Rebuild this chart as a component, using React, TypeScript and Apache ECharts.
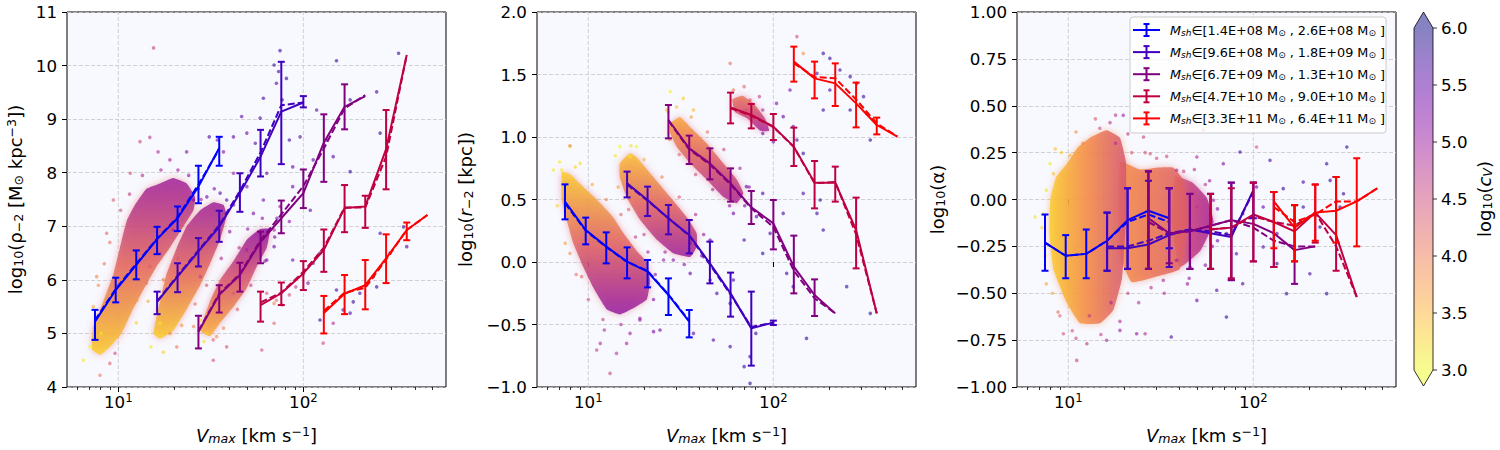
import React, { useEffect, useRef } from 'react';
import * as echarts from 'echarts';

// ---------------- data ----------------
const vmaxBins = [7.48, 9.68, 12.5, 16.2, 20.9, 27.1, 35.1, 45.4, 58.7, 76.0, 100, 129, 167, 216, 280, 362, 468];
const binStart = [0, 3, 5, 8, 11];
const massLow = ['1.4E+08', '9.6E+08', '6.7E+09', '4.7E+10', '3.3E+11'];
const massHigh = ['2.6E+08', '1.8E+09', '1.3E+10', '9.0E+10', '6.4E+11'];
const xTickMajor = [10, 100];
const xTickMinor = [6, 7, 8, 9, 20, 30, 40, 50, 60, 70, 80, 90, 200, 300, 400, 500];
const cbarTicks = [3.0, 3.5, 4.0, 4.5, 5.0, 5.5, 6.0];

// panel 1: log10 rho_-2
const rhoMedian = [
  [5.22, 5.81, 6.28, 6.76, 7.15, 7.74, 8.46],
  [5.59, 6.06, 6.53, 6.99, 7.62, 8.30, 9.14, 9.31],
  [5.03, 5.72, 6.09, 6.71, 7.15, 7.62, 8.56, 9.23, 9.43],
  [5.53, 5.75, 6.12, 6.56, 7.34, 7.37, 8.44, 10.2],
  [5.38, 5.74, 5.90, 6.40, 6.93, 7.21],
];
const rhoMean = [
  [5.25, 5.83, 6.30, 6.77, 7.17, 7.78, 8.44],
  [5.60, 6.08, 6.55, 7.02, 7.66, 8.38, 9.26, 9.31],
  [5.05, 5.74, 6.11, 6.74, 7.22, 7.75, 8.45, 9.20, 9.45],
  [5.58, 5.76, 6.15, 6.60, 7.35, 7.35, 8.30, 10.2],
  [5.42, 5.76, 5.85, 6.38, 6.93, 7.21],
];
const rhoLow = [
  [4.88, 5.58, 6.01, 6.48, 6.91, 7.43, 8.13],
  [5.36, 5.77, 6.25, 6.71, 7.27, 7.93, 8.16, 9.22],
  [4.72, 5.39, 5.78, 6.31, 6.87, 7.34, 7.83, 8.81, 9.43],
  [5.22, 5.53, 5.81, 6.15, 6.89, 6.97, 7.69, 10.2],
  [5.00, 5.36, 5.45, 5.94, 6.74, 7.21],
];
const rhoHigh = [
  [5.44, 6.04, 6.55, 6.99, 7.37, 8.13, 8.67],
  [5.78, 6.31, 6.78, 7.29, 7.99, 8.80, 10.07, 9.43],
  [5.33, 5.90, 6.32, 6.90, 7.48, 8.06, 9.09, 9.65, 9.43],
  [5.78, 5.95, 6.35, 6.94, 7.77, 7.57, 9.17, 10.2],
  [5.70, 6.09, 6.37, 6.85, 7.07, 7.21],
];

// panel 2: log10 r_-2
const rMedian = [
  [0.483, 0.256, 0.123, 0.003, -0.077, -0.264, -0.477],
  [0.629, 0.496, 0.349, 0.216, -0.011, -0.251, -0.531, -0.485],
  [1.136, 0.909, 0.789, 0.629, 0.437, 0.309, -0.037, -0.264, -0.411],
  [1.237, 1.176, 1.083, 0.923, 0.635, 0.635, 0.256, -0.411],
  [1.603, 1.469, 1.429, 1.269, 1.096, 1.003],
];
const rMean = [
  [0.47, 0.25, 0.12, 0.0, -0.07, -0.26, -0.47],
  [0.62, 0.49, 0.35, 0.21, -0.02, -0.26, -0.52, -0.485],
  [1.13, 0.90, 0.78, 0.62, 0.43, 0.28, -0.07, -0.29, -0.411],
  [1.23, 1.17, 1.08, 0.92, 0.63, 0.64, 0.22, -0.411],
  [1.59, 1.48, 1.47, 1.30, 1.11, 1.003],
];
const rLow = [
  [0.341, 0.141, -0.011, -0.131, -0.203, -0.424, -0.603],
  [0.517, 0.368, 0.221, 0.069, -0.171, -0.437, -0.829, -0.504],
  [0.989, 0.784, 0.661, 0.483, 0.304, 0.101, -0.251, -0.432, -0.411],
  [1.109, 1.069, 0.976, 0.768, 0.429, 0.483, -0.051, -0.411],
  [1.443, 1.309, 1.248, 1.077, 1.021, 1.003],
];
const rHigh = [
  [0.621, 0.355, 0.237, 0.117, 0.016, -0.131, -0.384],
  [0.723, 0.603, 0.456, 0.336, 0.163, -0.085, -0.237, -0.469],
  [1.256, 1.011, 0.909, 0.749, 0.568, 0.496, 0.211, -0.139, -0.411],
  [1.355, 1.264, 1.184, 1.075, 0.808, 0.763, 0.515, -0.411],
  [1.723, 1.603, 1.589, 1.435, 1.155, 1.003],
];

// panel 3: log10 alpha
const alphaMedian = [
  [-0.23, -0.30, -0.29, -0.22, -0.11, -0.06, -0.10],
  [-0.26, -0.26, -0.24, -0.19, -0.16, -0.18, -0.20, 0.05],
  [-0.10, -0.18, -0.17, -0.14, -0.11, -0.13, -0.18, -0.27, -0.25],
  [-0.16, -0.15, -0.08, -0.12, -0.17, -0.07, -0.19, -0.52],
  [-0.01, -0.15, -0.07, -0.06, -0.01, 0.06],
];
const alphaMean = [
  [-0.23, -0.30, -0.29, -0.22, -0.12, -0.08, -0.12],
  [-0.25, -0.25, -0.22, -0.18, -0.16, -0.17, -0.19, 0.04],
  [-0.12, -0.18, -0.17, -0.14, -0.11, -0.15, -0.22, -0.25, -0.25],
  [-0.16, -0.15, -0.09, -0.12, -0.14, -0.07, -0.25, -0.52],
  [-0.04, -0.12, -0.08, -0.01, -0.01, 0.06],
];
const alphaLow = [
  [-0.38, -0.42, -0.42, -0.38, -0.37, -0.37, -0.26],
  [-0.38, -0.37, -0.37, -0.36, -0.37, -0.37, -0.43, -0.10],
  [-0.37, -0.34, -0.37, -0.37, -0.43, -0.33, -0.36, -0.45, -0.25],
  [-0.37, -0.42, -0.33, -0.36, -0.33, -0.23, -0.38, -0.52],
  [-0.26, -0.33, -0.22, -0.23, -0.25, 0.06],
];
const alphaHigh = [
  [-0.08, -0.19, -0.16, -0.07, 0.06, 0.15, 0.06],
  [-0.07, 0.06, 0.10, 0.06, 0.03, 0.03, 0.09, 0.09],
  [0.15, 0.06, 0.03, 0.03, 0.09, 0.09, 0.04, -0.03, -0.25],
  [0.03, 0.06, 0.09, 0.04, -0.03, 0.08, 0.12, -0.52],
  [0.04, -0.03, 0.08, 0.12, 0.22, 0.06],
];

// dense clouds of subhaloes: outline [Vmax, value], and log10(cV) range across each cloud
const rhoCloudA = [[7.2, 4.7], [7.3, 5.1], [8.3, 5.6], [9.4, 6.1], [10.2, 6.6], [11.1, 7.1], [12.3, 7.4], [14.2, 7.7], [16.8, 7.8], [19.8, 7.9], [23.4, 7.8], [26, 7.55], [25.5, 7.3], [22.5, 7.0], [19, 6.6], [16.1, 6.25], [13.6, 5.8], [11.8, 5.4], [10.4, 5.0], [9.0, 4.75], [8.0, 4.6]];
const rhoCloudB = [[15.5, 5.0], [16.8, 5.6], [18.2, 6.1], [20.7, 6.6], [23.4, 7.0], [27.7, 7.3], [32.6, 7.45], [37, 7.4], [38.5, 7.2], [35.5, 6.75], [31.3, 6.3], [27.7, 5.9], [23.4, 5.45], [19.8, 5.05], [16.8, 4.9]];
const rhoCloudC = [[27.7, 5.05], [31.3, 5.6], [35.5, 6.0], [41.9, 6.35], [49.5, 6.75], [58.4, 6.95], [66, 6.95], [63.4, 6.6], [56, 6.25], [49.5, 5.85], [41.9, 5.5], [35.5, 5.2], [31.3, 4.95]];
const rhoCloudCv = [[3.3, 5.0], [3.3, 5.0], [3.5, 5.1]];

const rCloudA = [[7.2, 0.72], [8.0, 0.70], [9.4, 0.6], [11.1, 0.5], [13.6, 0.36], [15.5, 0.23], [18.5, 0.08], [20.7, 0.0], [21.6, -0.15], [20.7, -0.3], [17.5, -0.37], [14.8, -0.42], [12.6, -0.38], [11.6, -0.3], [10.6, -0.2], [9.4, -0.04], [8.3, 0.15], [7.6, 0.35], [7.2, 0.5]];
const rCloudB = [[14.8, 0.79], [16.8, 0.87], [18.2, 0.84], [21.6, 0.71], [27.7, 0.52], [34, 0.36], [38.5, 0.23], [38.5, 0.12], [35.5, 0.04], [28.8, 0.07], [23.4, 0.18], [19, 0.34], [16.1, 0.52], [14.8, 0.68]];
const rCloudC = [[27.7, 1.11], [31.3, 1.16], [35.5, 1.08], [43.6, 0.95], [53.7, 0.79], [63.4, 0.66], [68.8, 0.55], [63.4, 0.47], [53.7, 0.52], [43.6, 0.66], [35.5, 0.79], [30.1, 0.92], [27.7, 1.03]];
const rCloudD = [[60, 1.3], [68, 1.33], [78, 1.27], [90, 1.15], [95, 1.05], [85, 1.05], [72, 1.15], [62, 1.2]];
const rCloudCv = [[3.3, 5.1], [3.4, 5.0], [3.6, 4.9], [4.0, 4.9]];

const alphaCloudC = [[38, 0.12], [47, 0.09], [56, 0.01], [61, -0.12], [52, -0.27], [40, -0.36], [36, -0.1]];
const alphaCloudB = [[19, 0.2], [24.4, 0.16], [30, 0.17], [37, 0.17], [42, 0.1], [44, -0.1], [40, -0.37], [30, -0.41], [22, -0.44], [19, -0.3]];
const alphaCloudA = [[8.0, 0.0], [8.6, 0.12], [9.8, 0.19], [11.3, 0.28], [13.1, 0.33], [16.1, 0.37], [19.0, 0.33], [20.5, 0.2], [20.5, -0.1], [19.5, -0.42], [17.5, -0.59], [14.8, -0.66], [11.6, -0.66], [9.8, -0.55], [8.3, -0.37], [7.9, -0.17]];
const alphaCloudCv = [[4.3, 4.9], [3.8, 4.3], [3.3, 4.4]];

// sparse individual subhaloes: [Vmax, value, log10 cV]
const rhoPoints = [
  [74.8, 10.28, 5.8], [69.5, 10.01, 5.8], [73.5, 9.89, 5.7], [71.5, 9.67, 5.6], [81, 9.76, 5.8], [60.8, 9.39, 5.7], [76.8, 9.36, 5.6], [46.4, 9.05, 5.5], [58.4, 9.02, 5.6], [49.5, 8.74, 5.4], [41.9, 8.67, 5.5], [34.3, 8.61, 5.3], [31, 8.67, 5.7], [37, 8.39, 5.2], [55, 8.55, 5.6], [84, 8.61, 5.7], [87.6, 8.11, 5.5], [63.4, 7.99, 5.4], [49.5, 7.74, 5.2], [41.9, 7.99, 5.0], [60.8, 7.49, 5.3],
  [151, 10.09, 5.8], [249, 9.51, 5.7], [179, 9.36, 5.7], [118, 9.17, 5.6], [134, 8.61, 5.7], [96, 8.67, 5.6], [113, 8.24, 5.5], [145, 8.3, 5.6], [179, 8.02, 5.8], [87.6, 7.74, 5.4], [109, 7.3, 5.5], [74.8, 7.37, 5.0], [84, 7.09, 5.1], [69.5, 6.93, 4.9], [260, 8.74, 5.8],
  [63.4, 5.75, 4.3], [71.5, 5.62, 4.1], [84, 5.72, 4.4], [77, 5.53, 4.0], [69.5, 5.56, 3.9], [91, 5.87, 4.6], [100, 6.12, 5.0], [113, 6.31, 5.5], [123, 6.5, 5.7], [106, 5.94, 5.2], [87.6, 6.37, 5.3], [59.6, 4.69, 4.4], [69.5, 5.19, 4.2],
  [123, 5.25, 5.8], [151, 5.81, 5.7], [186, 5.59, 5.8], [202, 5.75, 5.7], [179, 5.38, 5.6], [239, 6.06, 5.8], [260, 6.87, 5.7], [348, 6.99, 5.8], [362, 6.62, 5.7], [294, 6.5, 5.7], [249, 5.87, 5.8], [145, 5.19, 4.8], [128, 4.82, 4.5], [164, 5.44, 5.5], [327, 10.23, 5.8],
  [15.5, 10.33, 4.6], [13.1, 8.58, 4.5], [14.8, 8.66, 4.7], [16.4, 8.39, 4.8], [19, 8.24, 5.0], [23.4, 8.39, 5.2], [11.6, 7.99, 4.4], [9.4, 7.49, 4.3], [8.65, 6.87, 4.2], [7.64, 6.06, 3.9], [7.33, 5.5, 3.6], [6.47, 4.5, 3.1], [7.03, 4.75, 3.0], [7.96, 4.22, 4.0], [9.0, 4.44, 4.2], [9.6, 4.63, 4.5], [8.1, 5.0, 3.1], [12.6, 5.62, 3.7], [14.8, 6.25, 4.3],
  [16.8, 5.19, 3.1], [16.1, 5.0, 3.3], [19, 5.0, 3.8], [20.7, 4.75, 4.0], [14.2, 5.94, 4.0], [16.8, 6.5, 4.5], [19.8, 6.93, 4.9], [25.5, 7.49, 5.2], [30.1, 7.55, 5.4], [35.5, 7.62, 5.5], [38.5, 7.49, 5.6], [27.7, 6.06, 4.6], [32.6, 4.88, 4.2], [25.5, 5.13, 3.9],
  [27.7, 5.25, 3.2], [30.1, 5.0, 3.3], [34, 4.94, 3.8], [38.5, 4.75, 4.3], [32.6, 4.5, 4.4], [41.9, 5.75, 4.3], [49.5, 6.56, 4.9], [58.4, 6.87, 5.0], [69.5, 6.62, 5.4], [53.7, 7.24, 5.3], [63.4, 6.37, 5.5],
];
const rhoHalo = [
  [7.8, 5.9, 3.8], [8.4, 6.3, 4.0], [9.0, 6.7, 4.1], [10.3, 7.3, 4.4], [11.5, 7.6, 4.6], [13.5, 7.95, 4.8], [17, 8.05, 4.9], [21, 8.05, 5.0], [24, 7.95, 5.1], [27, 7.7, 5.2], [12.5, 5.2, 3.3], [14.5, 5.6, 3.6], [17.5, 6.0, 4.0], [21, 6.4, 4.4],
  [15, 4.75, 3.1], [17.5, 4.65, 3.3], [22, 5.15, 3.8], [26, 5.55, 4.1], [30, 5.9, 4.4], [36, 6.4, 4.8], [40, 6.9, 5.1], [42, 7.4, 5.3], [33, 7.7, 5.2], [28, 7.5, 5.0],
  [29, 4.85, 3.2], [37, 5.1, 3.9], [44, 5.45, 4.3], [52, 5.9, 4.6], [62, 6.35, 5.0], [70, 6.8, 5.3], [72, 7.15, 5.4], [60, 7.15, 5.1], [50, 6.95, 5.0], [45, 6.6, 4.8],
];
const rPoints = [
  [7.96, 0.923, 3.0], [7.18, 0.736, 3.1], [6.47, 0.736, 3.1], [9.02, 0.789, 3.2], [7.96, 0.93, 4.0], [11.1, -0.704, 4.6], [11.6, -0.651, 4.8], [13.1, -0.891, 4.6], [14.2, -0.731, 4.7], [16.1, -0.651, 4.9], [16.8, -0.571, 5.0], [22.5, -0.557, 5.3], [24.4, -0.544, 5.4], [19, -0.464, 5.1], [12.2, -0.544, 4.8], [9.2, -0.117, 4.2], [7.96, 0.069, 3.8],
  [14.8, 0.923, 3.0], [16.8, 0.843, 3.1], [18.2, 0.923, 3.0], [28.8, 0.016, 5.2], [35.5, -0.091, 5.5], [41.9, 0.043, 5.6], [45.5, -0.144, 5.7], [49.5, -0.251, 5.7], [58.4, -0.331, 5.8], [60.8, -0.144, 5.7], [69.5, -0.837, 5.8], [74.8, -0.757, 5.8], [58.4, -0.677, 5.7], [47.4, -0.624, 5.6], [37, -0.571, 5.5], [45.5, 0.176, 5.4], [35.5, 0.149, 5.2], [25.5, 0.016, 5.0], [74.8, -0.971, 5.8], [80.4, -0.571, 5.8],
  [27.7, 1.363, 3.0], [32.6, 1.309, 3.3], [37, 1.216, 3.5], [26.5, 1.216, 3.4], [58.4, 1.589, 4.1], [71.5, 0.603, 5.5], [87.6, 0.549, 5.7], [81, 0.363, 5.6], [96, 0.229, 5.7], [87.6, 0.069, 5.8], [118, -0.091, 5.8], [128, -0.197, 5.7], [151, -0.611, 5.8], [69.5, 0.176, 5.7], [113, 0.389, 5.7], [60.8, 0.389, 5.4],
  [60.8, 1.376, 4.0], [69.5, 1.403, 4.2], [74.8, 1.296, 4.3], [84, 1.323, 4.6], [87.6, 1.216, 4.8], [71.5, 1.216, 4.4], [63.4, 1.243, 4.1], [104, 1.269, 5.2], [113, 1.163, 5.5], [128, 1.083, 5.6], [134, 0.976, 5.7], [145, 0.869, 5.8], [165, 0.656, 5.8], [179, 0.496, 5.8], [186, 0.256, 5.8], [172, 0.389, 5.7], [145, 0.549, 5.6], [334, -0.411, 5.8], [249, -0.197, 5.8], [100, 0.963, 5.5], [87.6, 1.029, 5.3],
  [134, 1.803, 4.4], [145, 1.669, 3.8], [186, 1.669, 5.8], [202, 1.629, 5.8], [229, 1.536, 5.7], [260, 1.483, 5.8], [282, 1.429, 5.8], [307, 1.323, 5.7], [320, 1.189, 5.8], [260, 1.216, 5.8], [202, 1.376, 5.7], [172, 1.509, 5.6], [123, 1.376, 5.3], [334, 0.976, 5.8], [186, 1.216, 5.8],
];
const rHalo = [
  [7.0, 0.8, 3.1], [8.5, 0.76, 3.3], [10.5, 0.62, 3.6], [12.5, 0.5, 3.9], [15, 0.38, 4.2], [18, 0.2, 4.6], [21, 0.08, 4.9], [23, -0.1, 5.1], [22.5, -0.3, 5.2], [19, -0.45, 5.0], [15, -0.5, 4.8], [12, -0.46, 4.6], [10, -0.3, 4.4], [8.6, -0.1, 4.1], [7.5, 0.15, 3.7], [6.8, 0.45, 3.3],
  [14, 0.85, 3.1], [17, 0.93, 3.2], [20, 0.82, 3.5], [25, 0.68, 3.9], [31, 0.52, 4.3], [38, 0.38, 4.8], [42, 0.22, 5.1], [41, 0.05, 5.3], [33, -0.02, 5.2], [26, 0.08, 4.9], [20, 0.22, 4.6], [16.5, 0.42, 4.2], [14.5, 0.6, 3.7],
  [27, 1.2, 3.2], [30, 1.24, 3.4], [36, 1.16, 3.7], [44, 1.04, 4.1], [54, 0.9, 4.5], [66, 0.75, 4.9], [74, 0.6, 5.2], [70, 0.45, 5.3], [58, 0.45, 5.1], [47, 0.58, 4.8], [38, 0.7, 4.5], [31, 0.86, 4.2], [27.5, 0.98, 3.9],
];
const alphaPoints = [
  [19.8, 0.449, 5.0], [16.8, 0.41, 4.7], [14.8, 0.38, 4.5], [25.5, 0.333, 4.6], [53.7, 0.369, 4.0], [27.7, 0.244, 4.4], [10.2, 0.236, 3.5], [7.96, 0.191, 3.1], [7.33, -0.076, 3.0], [6.61, -0.093, 3.2], [8.3, 0.138, 3.4], [84.7, 0.253, 5.7], [104, 0.28, 4.4], [123, 0.209, 5.7], [320, 0.28, 5.8], [249, 0.191, 5.8], [186, 0.093, 5.7], [145, 0.058, 5.8], [68.8, 0.191, 5.2], [49.5, 0.227, 4.8], [38.5, 0.156, 4.9],
  [11.1, -0.858, 4.6], [9.4, -0.716, 4.4], [12.6, -0.769, 4.7], [16.1, -0.751, 4.9], [19, -0.698, 5.0], [23.4, -0.716, 5.1], [26, -0.716, 4.8], [36, -0.733, 5.6], [71.5, -0.627, 5.8], [49.5, -0.538, 5.4], [63.4, -0.484, 5.6], [87.6, -0.449, 5.7], [151, -0.502, 5.8], [249, -0.502, 5.8], [202, -0.396, 5.7], [134, -0.342, 5.8], [113, -0.253, 5.6], [81, -0.289, 5.5],
  [71.5, -0.182, 5.7], [87.6, -0.076, 5.6], [113, -0.04, 5.5], [134, -0.182, 5.7], [186, -0.04, 5.8], [229, -0.147, 5.8], [294, -0.04, 5.8], [307, 0.031, 5.8], [260, 0.102, 5.8], [165, -0.111, 5.7], [104, 0.067, 5.4], [60.8, -0.004, 5.0], [49.5, -0.04, 4.7], [58.4, -0.147, 5.3], [45.5, -0.36, 5.2], [38.5, -0.324, 5.0], [32.6, -0.431, 4.9],
  [7.6, 0.05, 3.1], [7.5, -0.3, 3.2], [8.2, -0.5, 3.6], [9.0, -0.62, 4.2], [10.5, -0.7, 4.4], [13, -0.62, 4.7], [17, -0.55, 4.9], [21, -0.5, 4.6], [22, 0.25, 4.3], [18, 0.3, 4.8], [12, 0.3, 3.9], [9.2, 0.25, 3.3], [30, 0.22, 4.5], [42, 0.15, 4.6], [55, 0.08, 4.8], [60, -0.25, 5.2], [45, -0.42, 5.0], [28, -0.47, 4.7],
];
const alphaHalo = [
  [8.5, 0.27, 3.4], [11, 0.36, 3.8], [14, 0.43, 4.3], [18, 0.45, 4.7], [21, 0.35, 4.6], [26, 0.25, 4.4], [34, 0.23, 4.5], [48, 0.16, 4.8], [58, 0.1, 5.0], [64, -0.05, 5.2], [64, -0.22, 5.3], [55, -0.35, 5.1], [44, -0.45, 5.0], [33, -0.5, 4.8], [24, -0.55, 4.7], [19, -0.65, 4.8], [15, -0.72, 4.6], [11, -0.74, 4.5], [8.8, -0.6, 4.1], [7.6, -0.45, 3.6], [7.2, -0.15, 3.2],
];

// ---------------- styling ----------------
const FONT = 'DejaVu Sans';
const TICK_FS = 16.7;
const binColors = ['#0000ff', '#4000bf', '#800080', '#bf0040', '#ff0000'];
const plasma = ['#0d0887', '#41049d', '#6a00a8', '#8f0da4', '#b12a90', '#cc4778', '#e16462', '#f2844b', '#fca636', '#fcce25', '#f0f921'];
const GRID_LEFT = [67, 537, 1017];
const GRID_TOP = 12;
const GRID_W = 379;
const GRID_H = 375;
const X_MIN = Math.log10(5.28);
const X_MAX = Math.log10(590);
const CB = { x: 1414, y: 28, w: 19, h: 342, tip: 16 };

function hexRgb(h: string) {
  return [parseInt(h.slice(1, 3), 16), parseInt(h.slice(3, 5), 16), parseInt(h.slice(5, 7), 16)];
}
function cmap(cv: number, a: number) {
  let t = 1 - (cv - 3) / 3;
  t = Math.max(0, Math.min(1, t));
  const f = t * 10;
  const i = Math.min(9, Math.floor(f));
  const u = f - i;
  const c0 = hexRgb(plasma[i]);
  const c1 = hexRgb(plasma[i + 1]);
  const c = c0.map((v, k) => Math.round(v + (c1[k] - v) * u));
  return `rgba(${c[0]},${c[1]},${c[2]},${a})`;
}
const uminus = (v: number, d: number) => (v < -1e-9 ? '\u2212' : '') + Math.abs(v).toFixed(d);

const titleRich: any = {
  n: { fontFamily: FONT, fontSize: 18, lineHeight: 20, padding: [6, 0, 6, 0], verticalAlign: 'middle', fill: '#000' },
  i: { fontFamily: FONT, fontSize: 18, lineHeight: 20, padding: [6, 0, 6, 0], verticalAlign: 'middle', fontStyle: 'italic', fill: '#000' },
  b: { fontFamily: FONT, fontSize: 12.6, lineHeight: 14, verticalAlign: 'bottom', fill: '#000' },
  bi: { fontFamily: FONT, fontSize: 12.6, lineHeight: 14, verticalAlign: 'bottom', fontStyle: 'italic', fill: '#000' },
  t: { fontFamily: FONT, fontSize: 12.6, lineHeight: 14, verticalAlign: 'top', fill: '#000' },
};
const legendRich: any = {
  n: { fontFamily: FONT, fontSize: 12.8, lineHeight: 14, padding: [3, 0, 3, 0], verticalAlign: 'middle', fill: '#000' },
  i: { fontFamily: FONT, fontSize: 12.8, lineHeight: 14, padding: [3, 0, 3, 0], verticalAlign: 'middle', fontStyle: 'italic', fill: '#000' },
  b: { fontFamily: FONT, fontSize: 9, lineHeight: 10, verticalAlign: 'bottom', fill: '#000' },
  bi: { fontFamily: FONT, fontSize: 9, lineHeight: 10, verticalAlign: 'bottom', fontStyle: 'italic', fill: '#000' },
};

const panels = [
  { yMin: 4, yMax: 11, yStep: 1, dec: 0, med: rhoMedian, mean: rhoMean, lo: rhoLow, hi: rhoHigh, clouds: [rhoCloudA, rhoCloudB, rhoCloudC], cloudCv: rhoCloudCv, points: rhoPoints.concat(rhoHalo), grad: [0, 1, 0, 0] },
  { yMin: -1, yMax: 2, yStep: 0.5, dec: 1, med: rMedian, mean: rMean, lo: rLow, hi: rHigh, clouds: [rCloudA, rCloudB, rCloudC, rCloudD], cloudCv: rCloudCv, points: rPoints.concat(rHalo), grad: [0, 0, 0, 1] },
  { yMin: -1, yMax: 1, yStep: 0.25, dec: 2, med: alphaMedian, mean: alphaMean, lo: alphaLow, hi: alphaHigh, clouds: [alphaCloudC, alphaCloudB, alphaCloudA], cloudCv: alphaCloudCv, points: alphaPoints.concat(alphaHalo), grad: [0, 0, 1, 0] },
];

const xTitle = '{i|V}{bi|max}{n| [km s}{t|\u22121}{n|]}';
const yTitles = [
  '{n|log}{b|10}{n|(\u03c1}{b|\u22122}{n| [M}{b|\u2299}{n| kpc}{t|\u22123}{n|])}',
  '{n|log}{b|10}{n|(}{i|r}{b|\u22122}{n| [kpc])}',
  '{n|log}{b|10}{n|(\u03b1)}',
];
const yTitleX = [15, 465, 937];

function buildOption() {
  const series: any[] = [];
  const scatterIdx: number[] = [];
  const grids: any[] = [];
  const xAxes: any[] = [];
  const yAxes: any[] = [];

  panels.forEach((p, pi) => {
    grids.push({ left: GRID_LEFT[pi], top: GRID_TOP, width: GRID_W, height: GRID_H, show: true, backgroundColor: '#f8f8ff', borderColor: '#000', borderWidth: 1, containLabel: false });
    xAxes.push({
      type: 'value', gridIndex: pi, position: 'bottom', min: X_MIN, max: X_MAX,
      axisLine: { show: false },
      axisTick: { show: true, length: 5, customValues: xTickMajor.map(Math.log10), lineStyle: { color: '#000', width: 1 } },
      axisLabel: {
        customValues: xTickMajor.map(Math.log10), margin: 5, color: '#000',
        formatter: (v: number) => `{b|10}{s|${Math.round(v)}}`,
        rich: {
          b: { fontFamily: FONT, fontSize: TICK_FS, lineHeight: 18, padding: [6, 0, 0, 0], verticalAlign: 'bottom', color: '#000' },
          s: { fontFamily: FONT, fontSize: 11.7, lineHeight: 12, verticalAlign: 'top', color: '#000' },
        },
      },
      splitLine: { show: false },
    });
    yAxes.push({
      type: 'value', gridIndex: pi, min: p.yMin, max: p.yMax, interval: p.yStep,
      axisLine: { show: false },
      axisTick: { show: true, length: 5, lineStyle: { color: '#000', width: 1 } },
      axisLabel: { fontFamily: FONT, fontSize: TICK_FS, color: '#000', margin: 10, formatter: (v: number) => uminus(v, p.dec) },
      splitLine: { show: true, lineStyle: { color: '#c8c8c8', width: 0.8, type: [4, 2] } },
    });

    // vertical grid lines at the decades
    series.push({
      type: 'custom', xAxisIndex: pi, yAxisIndex: pi, z: 0, silent: true,
      data: xTickMajor.map((v) => [Math.log10(v), p.yMin]),
      encode: { x: 0, y: 1 },
      renderItem: (params: any, api: any) => {
        const x = api.value(0);
        const a = api.coord([x, p.yMin]);
        const b = api.coord([x, p.yMax]);
        return { type: 'line', shape: { x1: a[0], y1: a[1], x2: b[0], y2: b[1] }, style: { stroke: '#c8c8c8', lineWidth: 0.8, lineDash: [4, 2] } };
      },
    });

    // dense clouds
    p.clouds.forEach((poly, ci) => {
      const [c0, c1] = p.cloudCv[ci];
      const g = p.grad;
      series.push({
        type: 'custom', xAxisIndex: pi, yAxisIndex: pi, z: 1, silent: true, clip: true,
        data: poly.map((v) => [Math.log10(v[0]), v[1]]),
        encode: { x: 0, y: 1 },
        renderItem: (params: any, api: any) => {
          if (params.dataIndex !== 0) return null;
          const pts = poly.map((v) => api.coord([Math.log10(v[0]), v[1]]));
          return {
            type: 'polygon',
            shape: { points: pts, smooth: 0.12 },
            style: {
              fill: new echarts.graphic.LinearGradient(g[0], g[1], g[2], g[3], [
                { offset: 0, color: cmap(c0, 0.82) },
                { offset: 0.5, color: cmap((c0 + c1) / 2, 0.82) },
                { offset: 1, color: cmap(c1, 0.82) },
              ]),
              shadowBlur: 7,
              shadowColor: cmap((c0 + c1) / 2, 0.6),
            },
          };
        },
      });
    });

    // individual points
    scatterIdx.push(series.length);
    series.push({
      type: 'scatter', xAxisIndex: pi, yAxisIndex: pi, z: 2, silent: true, symbolSize: 3.6,
      data: p.points.map((q) => [Math.log10(q[0]), q[1], q[2]]),
    });

    // median, mean and error bars per mass bin
    p.med.forEach((med, m) => {
      const s0 = binStart[m];
      const color = binColors[m];
      series.push({
        type: 'line', xAxisIndex: pi, yAxisIndex: pi, z: 3, silent: true, symbol: 'none',
        data: med.map((v, k) => [Math.log10(vmaxBins[s0 + k]), v]),
        lineStyle: { color, width: 2 }, itemStyle: { color },
      });
      series.push({
        type: 'line', xAxisIndex: pi, yAxisIndex: pi, z: 3, silent: true, symbol: 'none',
        data: p.mean[m].map((v, k) => [Math.log10(vmaxBins[s0 + k]), v]),
        lineStyle: { color, width: 2, type: [7, 3] }, itemStyle: { color },
      });
      const bars: number[][] = [];
      p.lo[m].forEach((lo, k) => {
        const hi = p.hi[m][k];
        if (hi - lo > 1e-6) bars.push([Math.log10(vmaxBins[s0 + k]), lo, hi]);
      });
      series.push({
        type: 'custom', xAxisIndex: pi, yAxisIndex: pi, z: 4, silent: true,
        data: bars, encode: { x: 0, y: [1, 2] },
        renderItem: (params: any, api: any) => {
          const x = api.value(0);
          const a = api.coord([x, api.value(1)]);
          const b = api.coord([x, api.value(2)]);
          const cap = 3.5;
          const st = { stroke: color, lineWidth: 2 };
          return {
            type: 'group',
            children: [
              { type: 'line', shape: { x1: a[0], y1: a[1], x2: b[0], y2: b[1] }, style: st },
              { type: 'line', shape: { x1: a[0] - cap, y1: a[1], x2: a[0] + cap, y2: a[1] }, style: st },
              { type: 'line', shape: { x1: b[0] - cap, y1: b[1], x2: b[0] + cap, y2: b[1] }, style: st },
            ],
          };
        },
      });
    });
  });

  // minor ticks on the log axes
  panels.forEach((p, pi) => {
    xAxes.push({
      type: 'value', gridIndex: pi, position: 'bottom', min: X_MIN, max: X_MAX,
      axisLine: { show: false },
      axisTick: { show: true, length: 3, customValues: xTickMinor.map(Math.log10), lineStyle: { color: '#000', width: 0.8 } },
      axisLabel: { show: false },
      splitLine: { show: false },
    });
  });

  // graphic: titles, colorbar, legend
  const graphic: any[] = [];
  panels.forEach((p, pi) => {
    graphic.push({ type: 'text', x: GRID_LEFT[pi] + GRID_W / 2, y: 435, z: 100, style: { text: xTitle, rich: titleRich, align: 'center', verticalAlign: 'middle' } });
    graphic.push({ type: 'text', x: yTitleX[pi], y: GRID_TOP + GRID_H / 2, rotation: Math.PI / 2, z: 100, style: { text: yTitles[pi], rich: titleRich, align: 'center', verticalAlign: 'middle' } });
  });

  // colorbar
  const cbStops = plasma.map((c, k) => ({ offset: k / 10, color: cmap(6 - (3 * k) / 10, 0.5) }));
  graphic.push({ type: 'rect', z: 100, shape: { x: CB.x, y: CB.y, width: CB.w, height: CB.h }, style: { fill: new echarts.graphic.LinearGradient(0, 0, 0, 1, cbStops), stroke: 'none' } });
  graphic.push({ type: 'polygon', z: 100, shape: { points: [[CB.x, CB.y], [CB.x + CB.w, CB.y], [CB.x + CB.w / 2, CB.y - CB.tip]] }, style: { fill: cmap(6, 0.5) } });
  graphic.push({ type: 'polygon', z: 100, shape: { points: [[CB.x, CB.y + CB.h], [CB.x + CB.w, CB.y + CB.h], [CB.x + CB.w / 2, CB.y + CB.h + CB.tip]] }, style: { fill: cmap(3, 0.5) } });
  graphic.push({
    type: 'polygon', z: 101,
    shape: { points: [[CB.x, CB.y], [CB.x + CB.w / 2, CB.y - CB.tip], [CB.x + CB.w, CB.y], [CB.x + CB.w, CB.y + CB.h], [CB.x + CB.w / 2, CB.y + CB.h + CB.tip], [CB.x, CB.y + CB.h]] },
    style: { fill: 'none', stroke: '#000', lineWidth: 0.8 },
  });
  cbarTicks.forEach((v) => {
    const y = CB.y + CB.h - ((v - 3) / 3) * CB.h;
    graphic.push({ type: 'line', z: 101, shape: { x1: CB.x + CB.w, y1: y, x2: CB.x + CB.w + 4, y2: y }, style: { stroke: '#000', lineWidth: 0.8 } });
    graphic.push({ type: 'text', z: 101, x: CB.x + CB.w + 8, y, style: { text: v.toFixed(1), fontFamily: FONT, fontSize: TICK_FS, fill: '#000', align: 'left', verticalAlign: 'middle' } });
  });
  graphic.push({ type: 'text', x: 1484, y: 199, rotation: Math.PI / 2, z: 100, style: { text: '{n|log}{b|10}{n|(}{i|c}{bi|V}{n|)}', rich: titleRich, align: 'center', verticalAlign: 'middle' } });

  // legend
  graphic.push({ type: 'rect', z: 110, shape: { x: 1130, y: 17, width: 256, height: 116, r: 3 }, style: { fill: 'rgba(255,255,255,0.8)', stroke: '#cccccc', lineWidth: 1 } });
  massLow.forEach((lo, m) => {
    const y = 30 + m * 22.1;
    const color = binColors[m];
    const st = { stroke: color, lineWidth: 2 };
    graphic.push({ type: 'line', z: 111, shape: { x1: 1133, y1: y, x2: 1160, y2: y }, style: st });
    graphic.push({ type: 'line', z: 111, shape: { x1: 1146.5, y1: y - 6, x2: 1146.5, y2: y + 6 }, style: st });
    graphic.push({ type: 'line', z: 111, shape: { x1: 1143.5, y1: y - 6, x2: 1149.5, y2: y - 6 }, style: st });
    graphic.push({ type: 'line', z: 111, shape: { x1: 1143.5, y1: y + 6, x2: 1149.5, y2: y + 6 }, style: st });
    graphic.push({
      type: 'text', z: 111, x: 1170, y,
      style: { text: `{i|M}{bi|sh}{n|\u2208[${lo} M}{b|\u2299}{n| , ${massHigh[m]} M}{b|\u2299}{n| ]}`, rich: legendRich, align: 'left', verticalAlign: 'middle' },
    });
  });

  return {
    animation: false,
    backgroundColor: '#ffffff',
    grid: grids,
    xAxis: xAxes,
    yAxis: yAxes,
    visualMap: {
      type: 'continuous', show: false, min: 3, max: 6, dimension: 2, seriesIndex: scatterIdx,
      inRange: { color: plasma.map((h, k) => cmap(3 + (3 * k) / 10, 0.75)) },
    },
    series,
    graphic,
  };
}

export default function App() {
  const ref = useRef<HTMLDivElement>(null);
  useEffect(() => {
    const chart = echarts.init(ref.current as HTMLDivElement, null, { renderer: 'svg' });
    chart.setOption(buildOption() as any);
    return () => chart.dispose();
  }, []);
  return <div ref={ref} style={{ position: 'fixed', left: 0, top: 0, width: 1500, height: 450, background: '#fff' }} />;
}
